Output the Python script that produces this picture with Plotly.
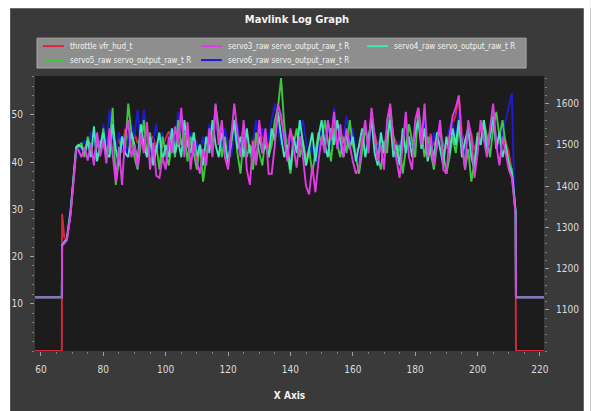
import plotly.graph_objects as go

# ---------------- data ----------------
series_names = [
    "throttle vfr_hud_t",
    "servo3_raw servo_output_raw_t R",
    "servo4_raw servo_output_raw_t R",
    "servo5_raw servo_output_raw_t R",
    "servo6_raw servo_output_raw_t R",
]
series_colors = ["#d8283c", "#e03ce4", "#40e6b8", "#3cc83c", "#1c1cd2"]

time_s = [58.1, 66.7, 66.8, 67.5, 68.3, 69.5, 70.5, 71.3,
          72, 73, 74, 75, 76, 77, 78, 79, 80, 81,
          82, 83, 84, 85, 86, 87, 88, 89, 90, 91,
          92, 93, 94, 95, 96, 97, 98, 99, 100, 101,
          102, 103, 104, 105, 106, 107, 108, 109, 110, 111,
          112, 113, 114, 115, 116, 117, 118, 119, 120, 121,
          122, 123, 124, 125, 126, 127, 128, 129, 130, 131,
          132, 133, 134, 135, 136, 137, 138, 139, 140, 141,
          142, 143, 144, 145, 146, 147, 148, 149, 150, 151,
          152, 153, 154, 155, 156, 157, 158, 159, 160, 161,
          162, 163, 164, 165, 166, 167, 168, 169, 170, 171,
          172, 173, 174, 175, 176, 177, 178, 179, 180, 181,
          182, 183, 184, 185, 186, 187, 188, 189, 190, 191,
          192, 193, 194, 195, 196, 197, 198, 199, 200, 201,
          202, 203, 204, 205, 206, 207, 208, 209, 210,
          211.0, 211.8, 212.2, 212.3, 221.3]

throttle = [0, 0, 29, 24, 23.5, 29, 36, 42,
            42.5, 43, 42, 43.5, 42.8, 44, 43, 44.5, 43.5, 45,
            44, 46, 43, 45, 42, 47, 44.5, 43, 46, 44,
            45, 43.5, 47, 44, 45.5, 42.5, 44, 43, 45, 46.5,
            44, 47, 45, 48.5, 44, 46, 43.5, 45, 44, 42.5,
            45, 43.5, 47, 44, 49, 46, 47.5, 44, 43, 45.5,
            49, 46, 44, 47.5, 43.5, 42, 45, 43.5, 47, 45,
            46, 43, 44, 46.5, 50, 49, 46, 44, 46.5, 45,
            43, 45.5, 44, 41.5, 41, 43.5, 41.5, 44, 46, 45,
            47.5, 45.5, 48, 45, 47, 44, 46.5, 45, 44, 42.5,
            43, 45, 47, 44.5, 48, 46, 43.5, 45, 43.5, 47,
            49, 45.5, 44, 42.5, 45, 48, 44.5, 43.5, 47, 48.5,
            45, 49, 44, 46, 43.5, 45.5, 47.5, 43.5, 43, 46,
            48, 50, 54, 46, 43.5, 47.5, 46, 42.5, 44.5, 47.5,
            46, 44, 46.5, 49, 45, 43.5, 46, 44.5, 42,
            38, 32, 29, 0, 0]

servo3 = [1130, 1130, 1255, 1262, 1268, 1330, 1415, 1488,
          1488, 1470, 1495, 1462, 1505, 1450, 1530, 1472, 1510, 1455,
          1540, 1478, 1410, 1495, 1403, 1520, 1560, 1470, 1500, 1445,
          1530, 1480, 1555, 1440, 1505, 1425, 1420, 1470, 1440, 1520,
          1480, 1545, 1500, 1590, 1470, 1555, 1440, 1510, 1460, 1430,
          1490, 1450, 1540, 1470, 1600, 1500, 1560, 1470, 1440, 1520,
          1600, 1530, 1470, 1560, 1440, 1403, 1510, 1450, 1560, 1480,
          1540, 1430, 1430, 1500, 1600, 1570, 1520, 1460, 1540, 1490,
          1445, 1520, 1470, 1400, 1380, 1450, 1385, 1460, 1520, 1480,
          1560, 1510, 1580, 1490, 1550, 1470, 1540, 1500, 1460, 1430,
          1445, 1510, 1560, 1480, 1590, 1520, 1460, 1500, 1440, 1560,
          1600, 1510, 1460, 1420, 1500, 1580, 1470, 1440, 1560, 1590,
          1500, 1600, 1470, 1520, 1450, 1510, 1560, 1440, 1430, 1520,
          1570, 1590, 1620, 1500, 1440, 1560, 1520, 1420, 1480, 1560,
          1510, 1470, 1540, 1600, 1500, 1450, 1520, 1480, 1440,
          1420, 1360, 1330, 1130, 1130]

servo4 = [1130, 1130, 1258, 1266, 1272, 1340, 1425, 1495,
          1500, 1495, 1480, 1510, 1470, 1545, 1460, 1500, 1530, 1480,
          1470, 1550, 1490, 1450, 1520, 1480, 1470, 1530, 1500, 1460,
          1550, 1500, 1470, 1520, 1450, 1490, 1530, 1460, 1500, 1470,
          1540, 1480, 1510, 1470, 1560, 1500, 1480, 1530, 1470, 1500,
          1450, 1520, 1480, 1560, 1500, 1470, 1530, 1500, 1460, 1510,
          1560, 1490, 1520, 1470, 1540, 1480, 1500, 1460, 1520, 1480,
          1500, 1470, 1540, 1510, 1580, 1520, 1470, 1500, 1440, 1520,
          1480, 1560, 1500, 1450, 1490, 1530, 1460, 1520, 1560, 1500,
          1470, 1540, 1500, 1560, 1510, 1470, 1530, 1490, 1520, 1460,
          1500, 1540, 1470, 1520, 1560, 1480, 1450, 1530, 1480, 1520,
          1560, 1470, 1500, 1450, 1540, 1480, 1520, 1470, 1530, 1560,
          1490, 1540, 1460, 1500, 1470, 1530, 1490, 1450, 1520, 1480,
          1540, 1500, 1560, 1470, 1510, 1540, 1470, 1440, 1520, 1500,
          1560, 1480, 1520, 1570, 1490, 1530, 1470, 1500, 1450,
          1430, 1370, 1335, 1130, 1130]

servo5 = [1130, 1130, 1256, 1264, 1270, 1336, 1420, 1492,
          1495, 1505, 1470, 1520, 1490, 1460, 1510, 1480, 1540, 1470,
          1500, 1590, 1403, 1460, 1520, 1490, 1600, 1530, 1470, 1440,
          1500, 1560, 1470, 1530, 1460, 1500, 1440, 1520, 1480, 1450,
          1510, 1470, 1560, 1500, 1530, 1460, 1520, 1480, 1440, 1500,
          1411, 1470, 1530, 1500, 1597, 1540, 1470, 1520, 1450, 1500,
          1560, 1480, 1430, 1520, 1470, 1500, 1440, 1530, 1480, 1450,
          1520, 1470, 1500, 1560, 1590, 1662, 1550, 1480, 1430, 1500,
          1540, 1470, 1510, 1450, 1490, 1430, 1480, 1530, 1500, 1560,
          1510, 1460, 1540, 1500, 1470, 1520, 1480, 1560, 1500, 1470,
          1430, 1490, 1540, 1500, 1580, 1520, 1470, 1440, 1510, 1480,
          1590, 1520, 1470, 1500, 1430, 1490, 1550, 1510, 1470, 1590,
          1530, 1470, 1520, 1480, 1440, 1500, 1540, 1480, 1430, 1470,
          1520, 1480, 1540, 1510, 1440, 1490, 1411, 1460, 1530, 1500,
          1560, 1520, 1470, 1540, 1580, 1520, 1560, 1500, 1460,
          1440, 1375, 1340, 1130, 1130]

servo6 = [1130, 1130, 1260, 1268, 1274, 1345, 1430, 1485,
          1480, 1500, 1510, 1490, 1530, 1500, 1520, 1480, 1550, 1500,
          1585, 1520, 1480, 1530, 1500, 1470, 1510, 1550, 1520, 1585,
          1500, 1585, 1530, 1480, 1510, 1550, 1490, 1530, 1470, 1500,
          1540, 1500, 1580, 1520, 1550, 1490, 1530, 1470, 1510, 1480,
          1520, 1500, 1550, 1490, 1570, 1510, 1480, 1540, 1500, 1470,
          1520, 1550, 1500, 1480, 1530, 1470, 1510, 1560, 1500, 1540,
          1490, 1520, 1560, 1600, 1540, 1500, 1560, 1490, 1520, 1480,
          1500, 1530, 1560, 1510, 1470, 1500, 1450, 1490, 1540, 1510,
          1560, 1500, 1590, 1530, 1480, 1520, 1570, 1500, 1540, 1480,
          1460, 1500, 1540, 1490, 1560, 1510, 1480, 1530, 1490, 1540,
          1570, 1500, 1460, 1510, 1480, 1540, 1500, 1520, 1490, 1570,
          1520, 1560, 1500, 1480, 1530, 1490, 1550, 1470, 1510, 1540,
          1560, 1500, 1580, 1520, 1480, 1530, 1490, 1460, 1520, 1500,
          1540, 1500, 1520, 1560, 1510, 1490, 1530, 1560, 1590,
          1625, 1365, 1330, 1130, 1130]

x_ticks = [60, 80, 100, 120, 140, 160, 180, 200, 220]
y_left_ticks = [10, 20, 30, 40, 50]
y_right_ticks = [1100, 1200, 1300, 1400, 1500, 1600]

# ---------------- layout geometry ----------------
W, H = 591, 411
ML, MR, MT, MB = 34, 45, 76, 59
PW = W - ML - MR
PH = H - MT - MB


def xp(px):
    return (px - ML) / PW


def yp(py):
    return (H - MB - py) / PH


FONT = "Liberation Sans Narrow, DejaVu Sans Condensed, Liberation Sans, Arial, sans-serif"

fig = go.Figure()

series_values = [throttle, servo3, servo4, servo5, servo6]
# ZedGraph draws first curve on top -> add in reverse order
for idx in reversed(range(len(series_names))):
    fig.add_trace(go.Scatter(
        x=time_s, y=series_values[idx], name=series_names[idx],
        mode="lines", line=dict(color=series_colors[idx], width=1.9),
        yaxis="y" if idx == 0 else "y2", showlegend=False,
    ))

shapes = [
    # white borders of the cropped screenshot
    dict(type="rect", xref="paper", yref="paper", x0=xp(-2), x1=xp(9), y0=yp(H + 2), y1=yp(-2),
         fillcolor="white", line_width=0, layer="above"),
    dict(type="rect", xref="paper", yref="paper", x0=xp(586), x1=xp(W + 2), y0=yp(H + 2), y1=yp(-2),
         fillcolor="white", line_width=0, layer="above"),
    dict(type="rect", xref="paper", yref="paper", x0=xp(-2), x1=xp(W + 2), y0=yp(8), y1=yp(-2),
         fillcolor="white", line_width=0, layer="above"),
    # legend box
    dict(type="rect", xref="paper", yref="paper", x0=xp(36), x1=xp(528), y0=yp(68), y1=yp(38),
         fillcolor="#8e8e8e", line=dict(color="#a8a8a8", width=1), layer="above"),
]
annotations = []
legend_slots = [(42, 46), (201, 46), (368, 46), (42, 60), (201, 60)]
for (lx, ly), name, color in zip(legend_slots, series_names, series_colors):
    shapes.append(dict(type="line", xref="paper", yref="paper", x0=xp(lx), x1=xp(lx + 21),
                       y0=yp(ly), y1=yp(ly), line=dict(color=color, width=2), layer="above"))
    annotations.append(dict(xref="paper", yref="paper", x=xp(lx + 25), y=yp(ly), text=name,
                            showarrow=False, xanchor="left", yanchor="middle",
                            font=dict(family=FONT, size=8, color="#f2f2f2")))

tick_font = dict(family=FONT, size=10, color="#dcdcdc")

fig.update_layout(
    width=W, height=H,
    margin=dict(l=ML, r=MR, t=MT, b=MB, pad=0),
    paper_bgcolor="#3a3a3a",
    plot_bgcolor="#1c1c1c",
    showlegend=False,
    title=dict(text="<b>Mavlink Log Graph</b>", x=297 / W, xref="container", xanchor="center",
               y=1 - 19 / H, yref="container", yanchor="middle",
               font=dict(family=FONT, size=11, color="#f4f4f4")),
    xaxis=dict(range=[58.1, 221.3], tickvals=x_ticks, showgrid=False, zeroline=False,
               ticks="outside", ticklen=4, tickcolor="#a0a0a0", ticklabelstandoff=5,
               minor=dict(dtick=5, ticks="outside", ticklen=2, tickcolor="#808080"),
               tickfont=tick_font,
               title=dict(text="<b>X Axis</b>", standoff=17,
                          font=dict(family=FONT, size=10, color="#f4f4f4"))),
    yaxis=dict(range=[0, 58.2], tickvals=y_left_ticks, showgrid=False, zeroline=False,
               ticks="outside", ticklen=4, tickcolor="#a0a0a0", ticklabelstandoff=5,
               minor=dict(dtick=2, ticks="outside", ticklen=2, tickcolor="#808080"),
               tickfont=tick_font),
    yaxis2=dict(range=[1000, 1667], tickvals=y_right_ticks, overlaying="y", side="right",
                showgrid=False, zeroline=False,
                ticks="outside", ticklen=4, tickcolor="#a0a0a0", ticklabelstandoff=5,
                minor=dict(dtick=20, ticks="outside", ticklen=2, tickcolor="#808080"),
                tickfont=tick_font),
    shapes=shapes,
    annotations=annotations,
)

fig.write_html(
    "out.html",
    config={"displayModeBar": False},
    post_script="document.body.style.margin='0';document.body.style.overflow='hidden';",
)
